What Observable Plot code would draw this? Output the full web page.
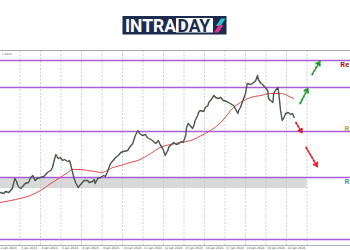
<!DOCTYPE html>
<html><head><meta charset="utf-8">
<script src="https://cdn.jsdelivr.net/npm/d3@7"></script>
<script src="https://cdn.jsdelivr.net/npm/@observablehq/plot@0.6"></script>
<style>html,body{margin:0;padding:0;background:#fff;overflow:hidden;width:350px;height:250px}</style>
</head><body><div id="chart"></div>
<script>
// hourly bars (hours from start) and close prices
const priceHours = [1,5,7,11,13,15,18,20,21,23,25,27,30,34,36,39,41,42,44,48,52,54,56,60,62,64,66,68,69,71,74,76,80,82,83,85,87,89,91,92,95,97,99,103,105,109,111,112,115,118,122,124,126,130,133,136,139,142,145,150,153,156,159,162,164,167,171,173,177,179,183,185,186,188,191,193,194,197,198,200,204,207,210,213,215,218,219,221,224,226,228,229,232,233,235,239,241,244,245,247,251,253,256,259,262,266,268,272,274,276,279,280,282,285,288,290,294,296,299,300,302,303,306,308,309,311,314,315,317,320,321,323,326,327,329,331,333,335,338,341,343,345];
const priceValues = [1.0802,1.0801,1.0803,1.0802,1.0804,1.0806,1.0816,1.0813,1.0810,1.0807,1.0806,1.0808,1.0811,1.0812,1.0816,1.0819,1.0815,1.0814,1.0816,1.0817,1.0818,1.0820,1.0822,1.0824,1.0827,1.0834,1.0840,1.0837,1.0836,1.0837,1.0834,1.0835,1.0833,1.0834,1.0831,1.0824,1.0817,1.0812,1.0809,1.0807,1.0810,1.0812,1.0814,1.0814,1.0812,1.0813,1.0815,1.0811,1.0816,1.0817,1.0819,1.0818,1.0822,1.0831,1.0834,1.0837,1.0839,1.0842,1.0843,1.0844,1.0848,1.0851,1.0859,1.0864,1.0861,1.0859,1.0860,1.0857,1.0855,1.0854,1.0851,1.0853,1.0854,1.0850,1.0846,1.0842,1.0839,1.0844,1.0847,1.0849,1.0852,1.0850,1.0851,1.0853,1.0852,1.0859,1.0867,1.0871,1.0868,1.0866,1.0870,1.0874,1.0879,1.0882,1.0884,1.0883,1.0887,1.0889,1.0892,1.0894,1.0899,1.0897,1.0896,1.0897,1.0894,1.0893,1.0892,1.0890,1.0889,1.0886,1.0881,1.0884,1.0887,1.0894,1.0901,1.0911,1.0910,1.0911,1.0913,1.0914,1.0919,1.0915,1.0911,1.0910,1.0909,1.0907,1.0904,1.0896,1.0894,1.0892,1.0901,1.0904,1.0907,1.0901,1.0884,1.0874,1.0877,1.0881,1.0882,1.0880,1.0881,1.0877];
// moving average
const maHours = [1,19,36,48,60,71,80,85,95,103,112,118,124,130,142,153,162,177,188,200,212,224,232,241,247,259,274,282,294,306,317,329,337,344];
const maValues = [1.0792,1.0795,1.0799,1.0804,1.0811,1.0817,1.0822,1.0825,1.0825,1.0824,1.0823,1.0822,1.0823,1.0826,1.0829,1.0832,1.0834,1.0841,1.0847,1.0850,1.0852,1.0854,1.0857,1.0861,1.0864,1.0872,1.0887,1.0892,1.0897,1.0899,1.0901,1.0901,1.0899,1.0896];
// horizontal levels
const levelValues = [1.0934, 1.0907, 1.0863, 1.0817, 1.0755];
const zoneLow = 1.0806, zoneHigh = 1.0817, zoneStartHour = 0, zoneEndHour = 360;
// day grid
const gridHours = [24,48,72,96,120,144,168,192,216,240,264,288,312,336,360];
const tickHours = [0,24,48,72,96,120,144,168,192,216,240,264,288,312,336];
const tickLabels = ["2 Jan 2024","3 Jan 2024","4 Jan 2024","5 Jan 2024","8 Jan 2024","9 Jan 2024","10 Jan 2024","11 Jan 2024","12 Jan 2024","15 Jan 2024","16 Jan 2024","17 Jan 2024","18 Jan 2024","19 Jan 2024","22 Jan 2024"];
const topPriceLabel = "1.0944";
// scenario arrows
const greenFromHour = [352, 366], greenFromPrice = [1.0891, 1.0920];
const greenToHour = [361, 375], greenToPrice = [1.0906, 1.0933];
const redFromHour = [347, 359], redFromPrice = [1.0872, 1.0847];
const redToHour = [354, 372], redToPrice = [1.0862, 1.0828];
// level labels (as visible at the chart's right edge)
const labelTexts = ["Re", "R", "R"];
const labelHours = [399, 404, 404];
const labelPrices = [1.0930, 1.0866, 1.0813];
const labelColors = ["#a3121d", "#b5a632", "#3f9c9c"];

const price = priceHours.map((h, i) => ({h, p: priceValues[i]}));
const ma = maHours.map((h, i) => ({h, p: maValues[i]}));
const green = greenFromHour.map((h, i) => ({x1: h, y1: greenFromPrice[i], x2: greenToHour[i], y2: greenToPrice[i]}));
const red = redFromHour.map((h, i) => ({x1: h, y1: redFromPrice[i], x2: redToHour[i], y2: redToPrice[i]}));
const labels = labelTexts.map((t, i) => ({t, h: labelHours[i], p: labelPrices[i], c: labelColors[i]}));
const ticks = tickHours.map((h, i) => ({h, t: tickLabels[i]}));
const yMin = 1.0749, yMax = 1.0944;

const chart = Plot.plot({
  width: 350, height: 250,
  marginTop: 50, marginBottom: 5, marginLeft: 0, marginRight: 0,
  style: {fontFamily: "DejaVu Sans, sans-serif", background: "#fff", overflow: "hidden"},
  x: {domain: [1.17, 410.9], axis: null},
  y: {domain: [yMin, yMax], axis: null},
  marks: [
    Plot.rect([{x1: zoneStartHour, x2: zoneEndHour, y1: zoneLow, y2: zoneHigh}], {x1: "x1", x2: "x2", y1: "y1", y2: "y2", fill: "#d9d9d9"}),
    Plot.ruleX(gridHours, {y1: yMin, y2: yMax, stroke: "#c4c4c4", strokeDasharray: "2,1.5", strokeWidth: 0.8}),
    Plot.ruleY([yMax], {stroke: "#aaaaaa", strokeWidth: 1}),
    Plot.ruleY([yMin], {stroke: "#b0b0b0", strokeWidth: 1}),
    Plot.ruleY(levelValues, {stroke: "#a65fd8", strokeWidth: 1.3}),
    Plot.line(ma, {x: "h", y: "p", stroke: "#df4a4a", strokeWidth: 1, curve: "monotone-x"}),
    Plot.line(price, {x: "h", y: "p", stroke: "#4a574a", strokeWidth: 1.4}),
    Plot.arrow(green, {x1: "x1", y1: "y1", x2: "x2", y2: "y2", stroke: "#1f9a2a", strokeWidth: 1.8, strokeDasharray: "1.8,1.8", headLength: 3.5}),
    Plot.arrow(red, {x1: "x1", y1: "y1", x2: "x2", y2: "y2", stroke: "#e0202c", strokeWidth: 1.8, strokeDasharray: "1.8,1.8", headLength: 3.5}),
    Plot.text(labels, {x: "h", y: "p", text: "t", fill: "c", textAnchor: "start", fontSize: 7.5, fontWeight: "bold", fontFamily: "Roboto"}),
    Plot.text(ticks, {x: "h", frameAnchor: "bottom", text: "t", textAnchor: "start", dy: 3, dx: 1, fontSize: 3, fill: "#555"}),
    Plot.text([topPriceLabel], {frameAnchor: "top-left", dx: 1, dy: 2.5, fontSize: 3, fill: "#777"})
  ]
});
document.getElementById("chart").append(chart);

// brand logo
const svg = d3.select(chart);
const g = svg.append("g").attr("font-family", "Roboto, sans-serif").attr("font-weight", 700).attr("text-anchor", "start");
g.append("rect").attr("x", 122.5).attr("y", 16).attr("width", 104).attr("height", 18.5).attr("fill", "#1c2b4e");
g.append("rect").attr("x", 176).attr("y", 18).attr("width", 37).attr("height", 14.5).attr("fill", "#ffffff");
g.append("text").attr("x", 125).attr("y", 31.5).attr("font-size", 17.5).attr("text-anchor", "start").attr("fill", "#fff").text("INTRA");
g.append("text").attr("x", 177.5).attr("y", 31.5).attr("font-size", 17.5).attr("text-anchor", "start").attr("fill", "#1c2b4e").text("DAY");
g.append("polygon").attr("points", "216,26 221,18.5 225.5,18.5 220.5,26").attr("fill", "#2cc6c8");
g.append("polygon").attr("points", "214,32.5 219,25 223.5,25 218.5,32.5").attr("fill", "#e0308c");
</script></body></html>
